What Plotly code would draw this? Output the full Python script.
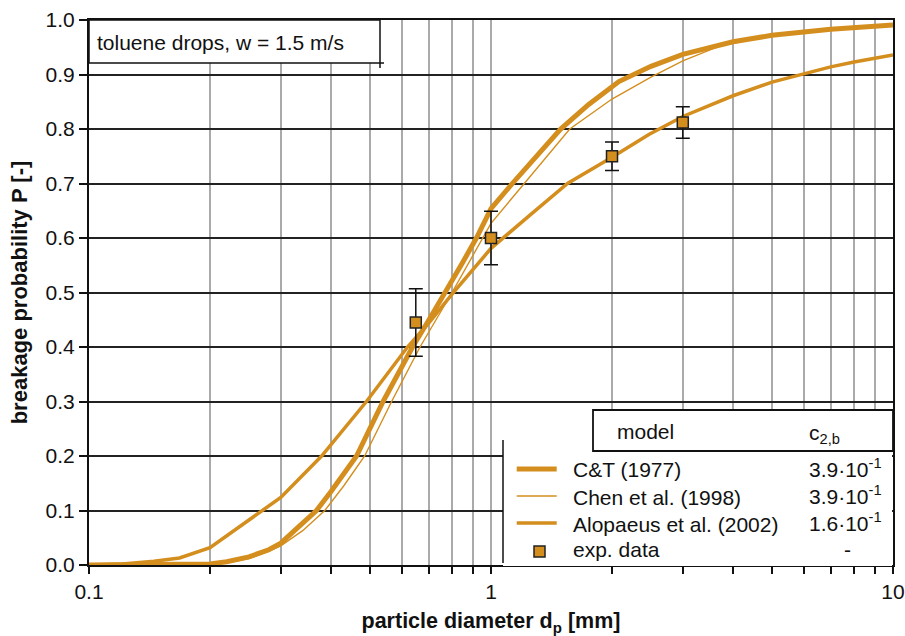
import plotly.graph_objects as go

# ---------------- data ----------------
d_ct = [0.1, 0.15, 0.2, 0.22, 0.25, 0.28, 0.3, 0.33, 0.368, 0.4, 0.463, 0.539, 0.638, 0.7, 0.77,
        0.85, 0.92, 1.0, 1.13, 1.3, 1.49, 1.75, 2.08, 2.5, 3.0, 4.0, 5.0, 7.0, 10.0]
p_ct = [0.0, 0.0, 0.002, 0.006, 0.015, 0.028, 0.04, 0.068, 0.1, 0.135, 0.2, 0.3, 0.4, 0.449, 0.5,
        0.555, 0.6, 0.654, 0.7, 0.751, 0.8, 0.845, 0.887, 0.915, 0.937, 0.96, 0.972, 0.983, 0.991]

d_chen = [0.1, 0.15, 0.2, 0.22, 0.25, 0.28, 0.3, 0.34, 0.386, 0.43, 0.485, 0.566, 0.666, 0.8, 0.951,
          1.0, 1.21, 1.57, 2.0, 2.5, 3.0, 3.7, 5.0, 7.0, 10.0]
p_chen = [0.0, 0.0, 0.001, 0.004, 0.012, 0.025, 0.035, 0.063, 0.1, 0.145, 0.2, 0.3, 0.4, 0.5, 0.6,
          0.627, 0.7, 0.8, 0.855, 0.895, 0.925, 0.952, 0.971, 0.983, 0.991]

d_alo = [0.1, 0.121, 0.145, 0.168, 0.2, 0.25, 0.3, 0.379, 0.49, 0.62, 0.7, 0.8, 1.0, 1.25, 1.55,
         2.0, 2.47, 3.0, 4.0, 5.0, 6.0, 7.0, 8.0, 10.0]
p_alo = [0.0, 0.002, 0.007, 0.013, 0.032, 0.082, 0.124, 0.2, 0.3, 0.4, 0.444, 0.497, 0.581, 0.642, 0.7,
         0.748, 0.79, 0.823, 0.861, 0.886, 0.902, 0.914, 0.923, 0.936]

d_exp = [0.65, 1.0, 2.0, 3.0]
p_exp = [0.445, 0.60, 0.75, 0.812]
err_exp = [0.062, 0.049, 0.026, 0.029]

x_tickvals = [0.1, 0.2, 0.3, 0.4, 0.5, 0.6, 0.7, 0.8, 0.9,
              1, 2, 3, 4, 5, 6, 7, 8, 9, 10]
x_ticktext = ["0.1", "", "", "", "", "", "", "", "",
              "1", "", "", "", "", "", "", "", "", "10"]
y_tickvals = [0.0, 0.1, 0.2, 0.3, 0.4, 0.5, 0.6, 0.7, 0.8, 0.9, 1.0]
y_ticktext = ["0.0", "0.1", "0.2", "0.3", "0.4", "0.5", "0.6", "0.7", "0.8", "0.9", "1.0"]

legend_names = ["C&T (1977)", "Chen et al. (1998)", "Alopaeus et al. (2002)", "exp. data"]
legend_c2b = ["3.9·10<sup>-1</sup>", "3.9·10<sup>-1</sup>", "1.6·10<sup>-1</sup>", "-"]

# ---------------- style ----------------
COL = "#D48E1E"
FONT = "Liberation Sans, Arial, sans-serif"
FS = 21
W, H = 905, 636
L, R, T, B = 89, 12, 20, 71
PW, PH = W - L - R, H - T - B


def px(xp):
    return (xp - L) / PW


def py(yp):
    return (H - B - yp) / PH


fig = go.Figure()

fig.add_trace(go.Scatter(x=d_alo, y=p_alo, mode="lines", line=dict(color=COL, width=3.5),
                         showlegend=False))
fig.add_trace(go.Scatter(x=d_chen, y=p_chen, mode="lines", line=dict(color=COL, width=1.4),
                         showlegend=False))
fig.add_trace(go.Scatter(x=d_ct, y=p_ct, mode="lines", line=dict(color=COL, width=5),
                         showlegend=False))
fig.add_trace(go.Scatter(x=d_exp, y=p_exp, mode="markers",
                         marker=dict(symbol="square", size=11, color=COL,
                                     line=dict(color="#222222", width=1.5)),
                         error_y=dict(type="data", array=err_exp, visible=True,
                                      color="#111111", thickness=1.5, width=7),
                         showlegend=False))

shapes = []
# dark vertical gridline at 1 mm
shapes.append(dict(type="line", xref="paper", yref="paper", x0=0.5, x1=0.5, y0=0, y1=1,
                   line=dict(color="#333333", width=1.5), layer="between"))

# text box top-left
shapes.append(dict(type="rect", xref="paper", yref="paper", x0=0, x1=px(380), y0=py(63), y1=1,
                   fillcolor="white", line=dict(color="#111111", width=1.5), layer="above"))
shapes.append(dict(type="line", xref="paper", yref="paper", x0=px(380), x1=px(380), y0=py(63), y1=py(68),
                   line=dict(color="#111111", width=1.5), layer="above"))
shapes.append(dict(type="line", xref="paper", yref="paper", x0=px(380), x1=px(384), y0=py(63), y1=py(63),
                   line=dict(color="#111111", width=1.5), layer="above"))

# legend body
shapes.append(dict(type="rect", xref="paper", yref="paper", x0=px(503), x1=px(892), y0=py(566), y1=py(451),
                   fillcolor="white", line=dict(width=0), layer="above"))
shapes.append(dict(type="line", xref="paper", yref="paper", x0=px(503), x1=px(503), y0=py(563), y1=py(440),
                   line=dict(color="#111111", width=1.5), layer="above"))
# legend header
shapes.append(dict(type="rect", xref="paper", yref="paper", x0=px(593), x1=1.0, y0=py(451), y1=py(410),
                   fillcolor="white", line=dict(color="#111111", width=1.8), layer="above"))

# legend samples
row_y = [469, 496, 523, 548]
widths = [5, 1.4, 3.5]
for i in range(3):
    shapes.append(dict(type="line", xref="paper", yref="paper", x0=px(516.7), x1=px(556.7),
                       y0=py(row_y[i]), y1=py(row_y[i]), line=dict(color=COL, width=widths[i]),
                       layer="above"))
shapes.append(dict(type="rect", xref="paper", yref="paper", x0=px(534), x1=px(545),
                   y0=py(557), y1=py(546), fillcolor=COL, line=dict(color="#222222", width=1.5),
                   layer="above"))

annotations = []
annotations.append(dict(text="toluene drops, w = 1.5 m/s", xref="paper", yref="paper",
                        x=px(95), y=py(42), xanchor="left", yanchor="middle", showarrow=False,
                        font=dict(family=FONT, size=FS, color="#111111")))
annotations.append(dict(text="model", xref="paper", yref="paper", x=px(615), y=py(431),
                        xanchor="left", yanchor="middle", showarrow=False,
                        font=dict(family=FONT, size=FS, color="#111111")))
annotations.append(dict(text="c<sub>2,b</sub>", xref="paper", yref="paper", x=px(807), y=py(434),
                        xanchor="left", yanchor="middle", showarrow=False,
                        font=dict(family=FONT, size=FS, color="#111111")))
for i in range(4):
    annotations.append(dict(text=legend_names[i], xref="paper", yref="paper", x=px(571),
                            y=py(row_y[i] + 1), xanchor="left", yanchor="middle", showarrow=False,
                            font=dict(family=FONT, size=FS, color="#111111")))
    if legend_c2b[i] == "-":
        annotations.append(dict(text=legend_c2b[i], xref="paper", yref="paper", x=px(847),
                                y=py(row_y[i] + 1), xanchor="center", yanchor="middle", showarrow=False,
                                font=dict(family=FONT, size=FS, color="#111111")))
    else:
        annotations.append(dict(text=legend_c2b[i], xref="paper", yref="paper", x=px(807),
                                y=py(row_y[i] - 1), xanchor="left", yanchor="middle", showarrow=False,
                                font=dict(family=FONT, size=FS, color="#111111")))

fig.update_layout(
    width=W, height=H,
    margin=dict(l=L, r=R, t=T, b=B, autoexpand=False),
    paper_bgcolor="white", plot_bgcolor="white",
    font=dict(family=FONT, size=FS, color="#111111"),
    shapes=shapes, annotations=annotations,
    showlegend=False,
    xaxis=dict(type="log", range=[-1, 1], tickvals=x_tickvals, ticktext=x_ticktext,
               ticks="outside", ticklen=7, tickwidth=1.5, tickcolor="#111111",
               ticklabeloverflow="allow",
               showgrid=True, gridcolor="#AAAAAA", gridwidth=1.5,
               showline=True, linecolor="#111111", linewidth=2, mirror=True,
               zeroline=False,
               tickfont=dict(family=FONT, size=FS, color="#111111"),
               title=dict(text="<b>particle diameter d<sub>p</sub> [mm]</b>", standoff=11,
                          font=dict(family=FONT, size=21.5, color="#111111"))),
    yaxis=dict(range=[0, 1], tickvals=y_tickvals, ticktext=y_ticktext,
               ticks="outside", ticklen=8, tickwidth=1.5, tickcolor="#111111",
               showgrid=True, gridcolor="#222222", gridwidth=1.5,
               showline=True, linecolor="#111111", linewidth=2, mirror=True,
               zeroline=False,
               tickfont=dict(family=FONT, size=FS, color="#111111"),
               title=dict(text="<b>breakage probability P [-]</b>", standoff=12,
                          font=dict(family=FONT, size=22, color="#111111"))),
)

fig.write_html("out.html")
